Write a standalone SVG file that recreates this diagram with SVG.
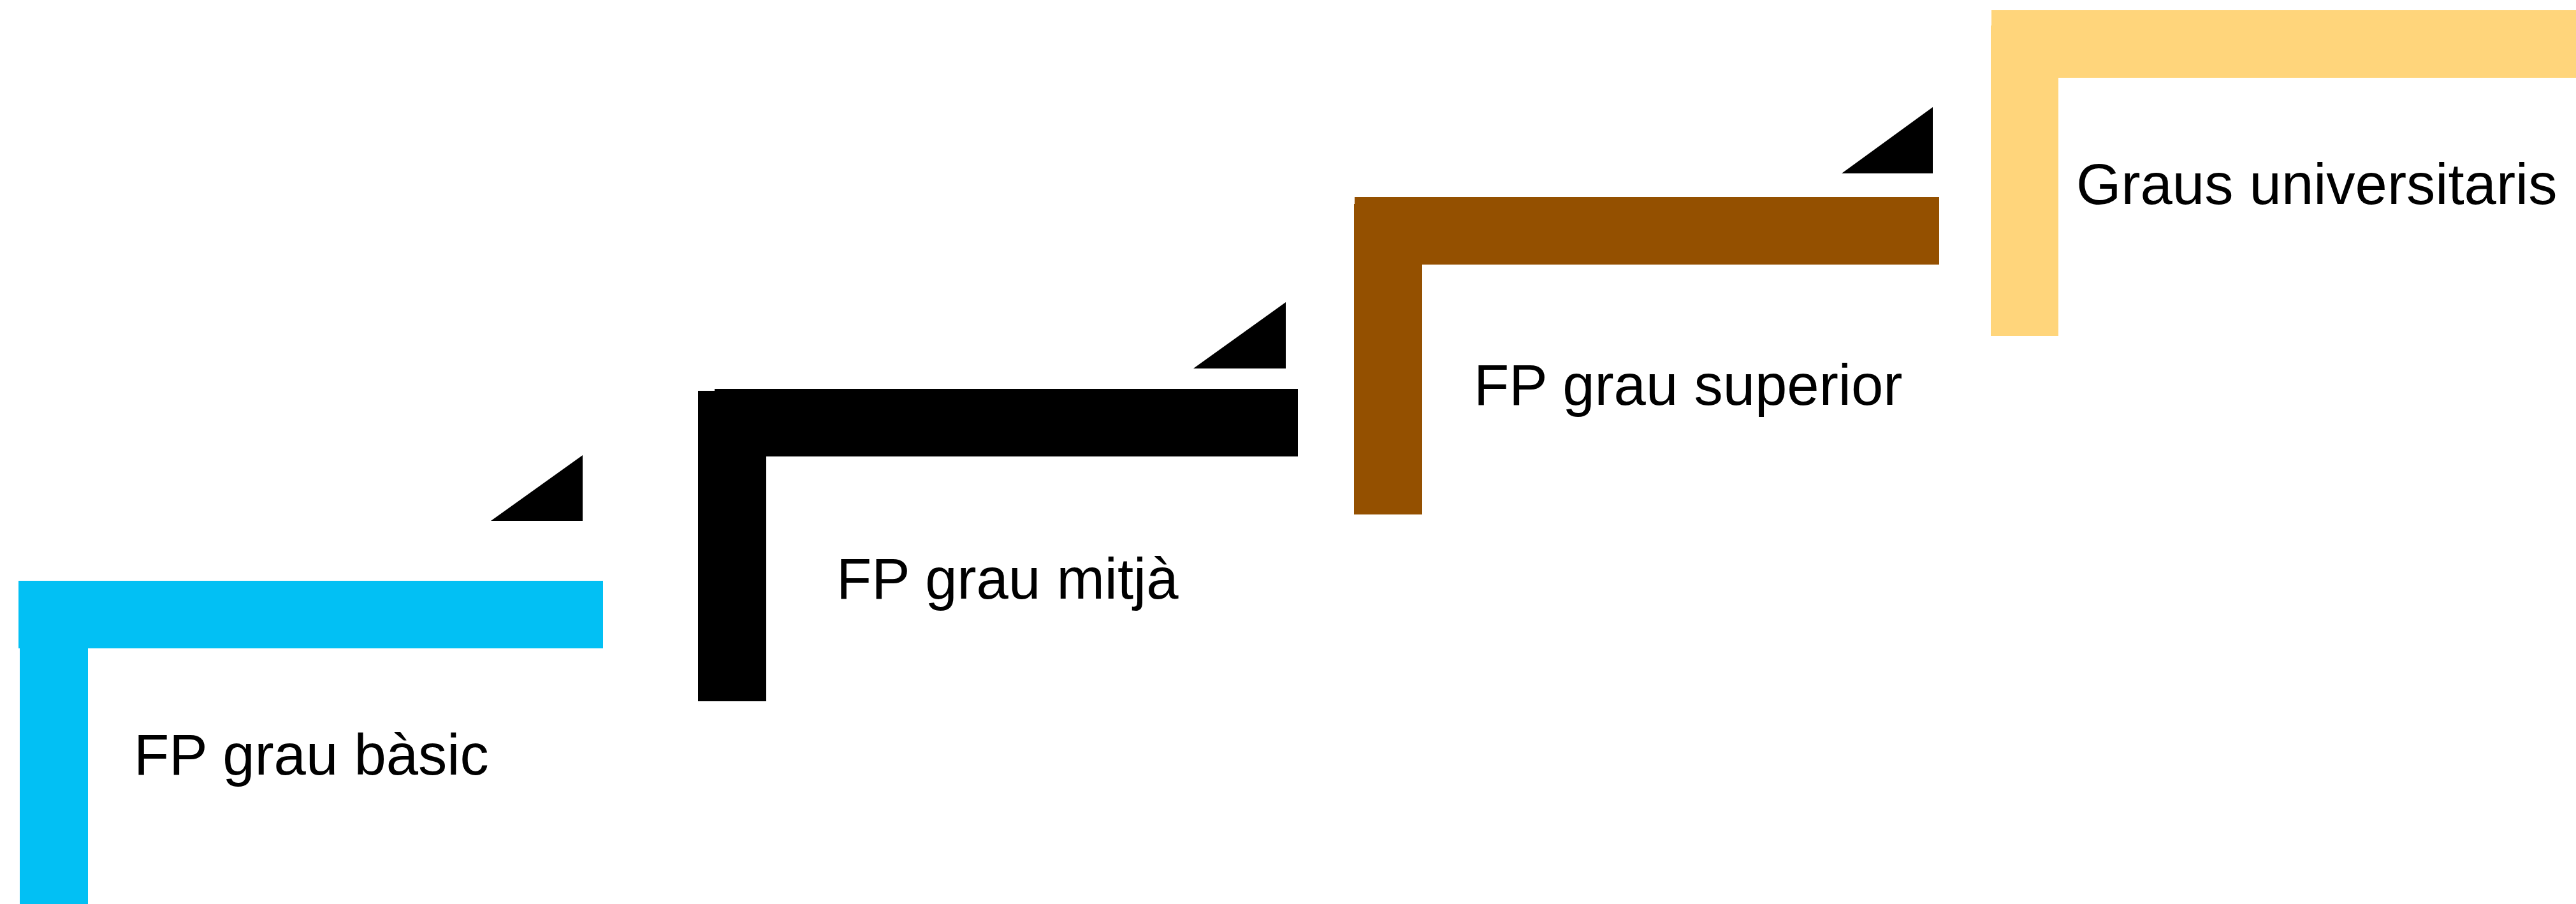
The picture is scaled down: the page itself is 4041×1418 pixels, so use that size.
<svg xmlns="http://www.w3.org/2000/svg" width="4041" height="1418" viewBox="0 0 4041 1418">
<style>
.lbl{font-family:"Liberation Sans","Noto Sans",Arial,sans-serif;font-size:90.5px;fill:#000}
.tri{fill:#000}
</style>
<rect width="4041" height="1418" fill="#fff"/>
<g id="step-basic">
<rect x="31" y="1000" width="107" height="418" fill="#02C0F4"/>
<rect x="29" y="911" width="917" height="106" fill="#02C0F4"/>
<text class="lbl" x="210" y="1215">FP grau bàsic</text>
</g>
<g id="step-mitja">
<rect x="1095" y="613" width="107" height="487" fill="#000"/>
<rect x="1121" y="610" width="915" height="106" fill="#000"/>
<text class="lbl" x="1312" y="939">FP grau mitjà</text>
</g>
<g id="step-superior">
<rect x="2124" y="320" width="107" height="487" fill="#945000"/>
<rect x="2125" y="309" width="917" height="106" fill="#945000"/>
<text class="lbl" x="2312" y="635">FP grau superior</text>
</g>
<g id="step-universitaris">
<rect x="3123" y="40" width="106" height="487" fill="#FFD57B"/>
<rect x="3124" y="16" width="917" height="106" fill="#FFD57B"/>
<text class="lbl" x="3257" y="320">Graus universitaris</text>
</g>
<g id="connectors">
<polygon class="tri" points="770,817 914,714 914,817"/>
<polygon class="tri" points="1872,578 2017,474 2017,578"/>
<polygon class="tri" points="2889,272 3032,168 3032,272"/>
</g>
</svg>
